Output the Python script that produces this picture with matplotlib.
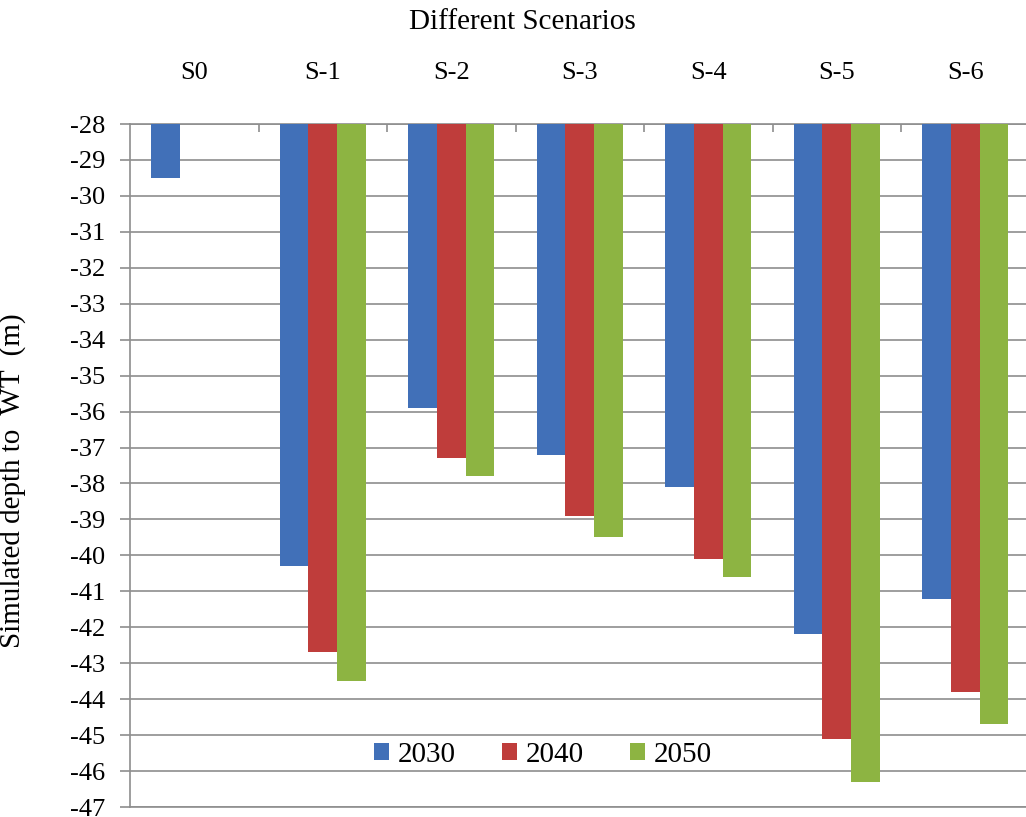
import numpy as np
import matplotlib
matplotlib.use("Agg")
import matplotlib.pyplot as plt
from matplotlib.patches import Patch

plt.rcParams['font.family'] = ['Liberation Serif', 'DejaVu Serif']

categories = ["S0", "S-1", "S-2", "S-3", "S-4", "S-5", "S-6"]
years = ["2030", "2040", "2050"]
v2030 = [-29.5, -40.3, -35.9, -37.2, -38.1, -42.2, -41.2]
v2040 = [np.nan, -42.7, -37.3, -38.9, -40.1, -45.1, -43.8]
v2050 = [np.nan, -43.5, -37.8, -39.5, -40.6, -46.3, -44.7]
series = [v2030, v2040, v2050]
colors = ["#4170B8", "#BF3D3B", "#8DB442"]
base = -28
ymin = -47

W, H = 1026, 817
fig = plt.figure(figsize=(W / 100, H / 100), dpi=100)
left, right, top, bottom = 130, 1029.5, 124, 807
ax = fig.add_axes([left / W, 1 - bottom / H, (right - left) / W, (bottom - top) / H])

x = np.arange(len(categories))
bw = 0.222
for i, (vals, c) in enumerate(zip(series, colors)):
    vals = np.array(vals, dtype=float)
    ax.bar(x + (i - 1) * bw, vals - base, bottom=base, width=bw, color=c, zorder=3)

ax.set_xlim(-0.5, len(categories) - 0.5)
ax.set_ylim(ymin, base)
ax.set_yticks(np.arange(ymin, base + 1, 1))
ax.set_yticklabels([str(int(t)) for t in np.arange(ymin, base + 1, 1)], fontsize=19)
ax.yaxis.grid(True, color="#8E8E8E", linewidth=1.2, zorder=0)
ax.tick_params(axis='y', length=7, width=1.2, color="#8E8E8E", pad=11)

ax.xaxis.tick_top()
ax.set_xticks(x)
ax.set_xticklabels(categories, fontsize=19)
ax.set_xticks(np.arange(len(categories)) + 0.5, minor=True)
ax.tick_params(axis='x', which='major', length=0, pad=29)
ax.tick_params(axis='x', which='minor', direction='in', length=6, width=1.2, color="#8E8E8E")

for s in ['left', 'top', 'bottom']:
    ax.spines[s].set_color("#8E8E8E")
    ax.spines[s].set_linewidth(1.2)
ax.spines['right'].set_visible(False)

ax.set_ylabel("Simulated depth to  WT  (m)", fontsize=21)
ax.yaxis.set_label_coords(-(130 - 26) / (right - left), (807 - 481) / (807 - 124))

fig.text(522 / W, 1 - 22 / H, "Different Scenarios", fontsize=21, ha='center', va='center')

handles = [Patch(facecolor=c, edgecolor='none', label=y) for c, y in zip(colors, years)]
ax.legend(handles=handles, loc='center', bbox_to_anchor=(0.459, 0.076), ncol=3,
          frameon=False, fontsize=21, handlelength=0.5, handleheight=0.5,
          handletextpad=0.3, columnspacing=1.6)

fig.savefig("out.png", dpi=100, facecolor='white')
